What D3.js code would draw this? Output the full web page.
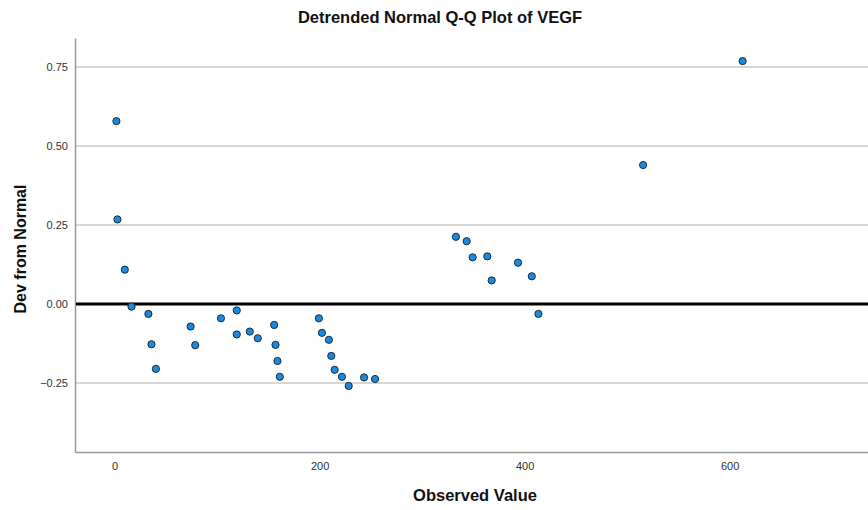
<!DOCTYPE html>
<html>
<head>
<meta charset="utf-8">
<script src="https://cdn.jsdelivr.net/npm/d3@7"></script>
<style>
  body { margin: 0; background: #fff; }
  text { font-family: "Liberation Sans", Arial, sans-serif; }
</style>
</head>
<body>
<svg width="868" height="510"></svg>
<script>
const observed = [1.8, 2.8, 10, 16.5, 33, 36, 40.3, 74.2, 78.7, 103.8, 119.2, 119.2, 131.9, 139.7,
  155.7, 157, 158.9, 161.2, 199.3, 202.3, 209.1, 211.4, 214.7, 221.8, 228.4, 243.4, 254.1,
  333, 343.5, 349.3, 363.6, 367.9, 393.6, 407, 413.5, 515.6, 612.7];
const devFromNormal = [0.579, 0.268, 0.109, -0.008, -0.031, -0.127, -0.205, -0.071, -0.130, -0.045,
  -0.020, -0.096, -0.087, -0.108, -0.066, -0.129, -0.180, -0.230, -0.045, -0.091, -0.113,
  -0.164, -0.208, -0.230, -0.259, -0.232, -0.237, 0.213, 0.199, 0.148, 0.151, 0.075, 0.131,
  0.088, -0.031, 0.440, 0.769];
const xTicks = [0, 200, 400, 600];
const yTicks = [-0.25, 0, 0.25, 0.5, 0.75];

const svg = d3.select("svg");
const plotLeft = 75, plotRight = 868, plotTop = 38, plotBottom = 452;

const x = d3.scaleLinear().domain([-38.6, 735]).range([plotLeft, plotRight]);
const y = d3.scaleLinear().domain([-0.468, 0.842]).range([plotBottom, plotTop]);

// horizontal gridlines
svg.append("g")
  .selectAll("line")
  .data(yTicks.filter(d => d !== 0))
  .join("line")
  .attr("x1", plotLeft).attr("x2", plotRight)
  .attr("y1", d => y(d)).attr("y2", d => y(d))
  .attr("stroke", "#d6d6d6")
  .attr("stroke-width", 2);

// y axis
const yAxis = svg.append("g")
  .attr("transform", `translate(${plotLeft},0)`)
  .call(d3.axisLeft(y).tickValues(yTicks).tickFormat(d3.format(".2f")).tickSize(0).tickPadding(7));
yAxis.select(".domain").attr("stroke", "#999").attr("stroke-width", 1.5);
yAxis.selectAll("text").attr("font-size", 11).attr("fill", "#333")
  .attr("font-family", "Liberation Sans, Arial, sans-serif");

// x axis
const xAxis = svg.append("g")
  .attr("transform", `translate(0,${plotBottom})`)
  .call(d3.axisBottom(x).tickValues(xTicks).tickFormat(d3.format("d")).tickSize(0).tickPadding(10));
xAxis.select(".domain").attr("stroke", "#999").attr("stroke-width", 1.5);
xAxis.selectAll("text").attr("font-size", 11).attr("fill", "#333")
  .attr("font-family", "Liberation Sans, Arial, sans-serif");

// reference line at zero
svg.append("line")
  .attr("x1", plotLeft + 1).attr("x2", plotRight)
  .attr("y1", y(0)).attr("y2", y(0))
  .attr("stroke", "#000")
  .attr("stroke-width", 3);

// points
svg.append("g")
  .selectAll("circle")
  .data(observed.map((d, i) => ({ x: d, y: devFromNormal[i] })))
  .join("circle")
  .attr("cx", d => x(d.x))
  .attr("cy", d => y(d.y))
  .attr("r", 3.6)
  .attr("fill", "#1a8ae0")
  .attr("stroke", "#1c2a38")
  .attr("stroke-width", 1);

// titles
svg.append("text")
  .attr("x", 440).attr("y", 23)
  .attr("text-anchor", "middle")
  .attr("font-size", 16.5)
  .attr("font-weight", "bold")
  .attr("fill", "#111")
  .text("Detrended Normal Q-Q Plot of VEGF");

svg.append("text")
  .attr("x", 475).attr("y", 501)
  .attr("text-anchor", "middle")
  .attr("font-size", 16.5)
  .attr("font-weight", "bold")
  .attr("fill", "#111")
  .text("Observed Value");

svg.append("text")
  .attr("transform", "translate(26,249) rotate(-90)")
  .attr("text-anchor", "middle")
  .attr("font-size", 16)
  .attr("font-weight", "bold")
  .attr("fill", "#111")
  .text("Dev from Normal");
</script>
</body>
</html>
